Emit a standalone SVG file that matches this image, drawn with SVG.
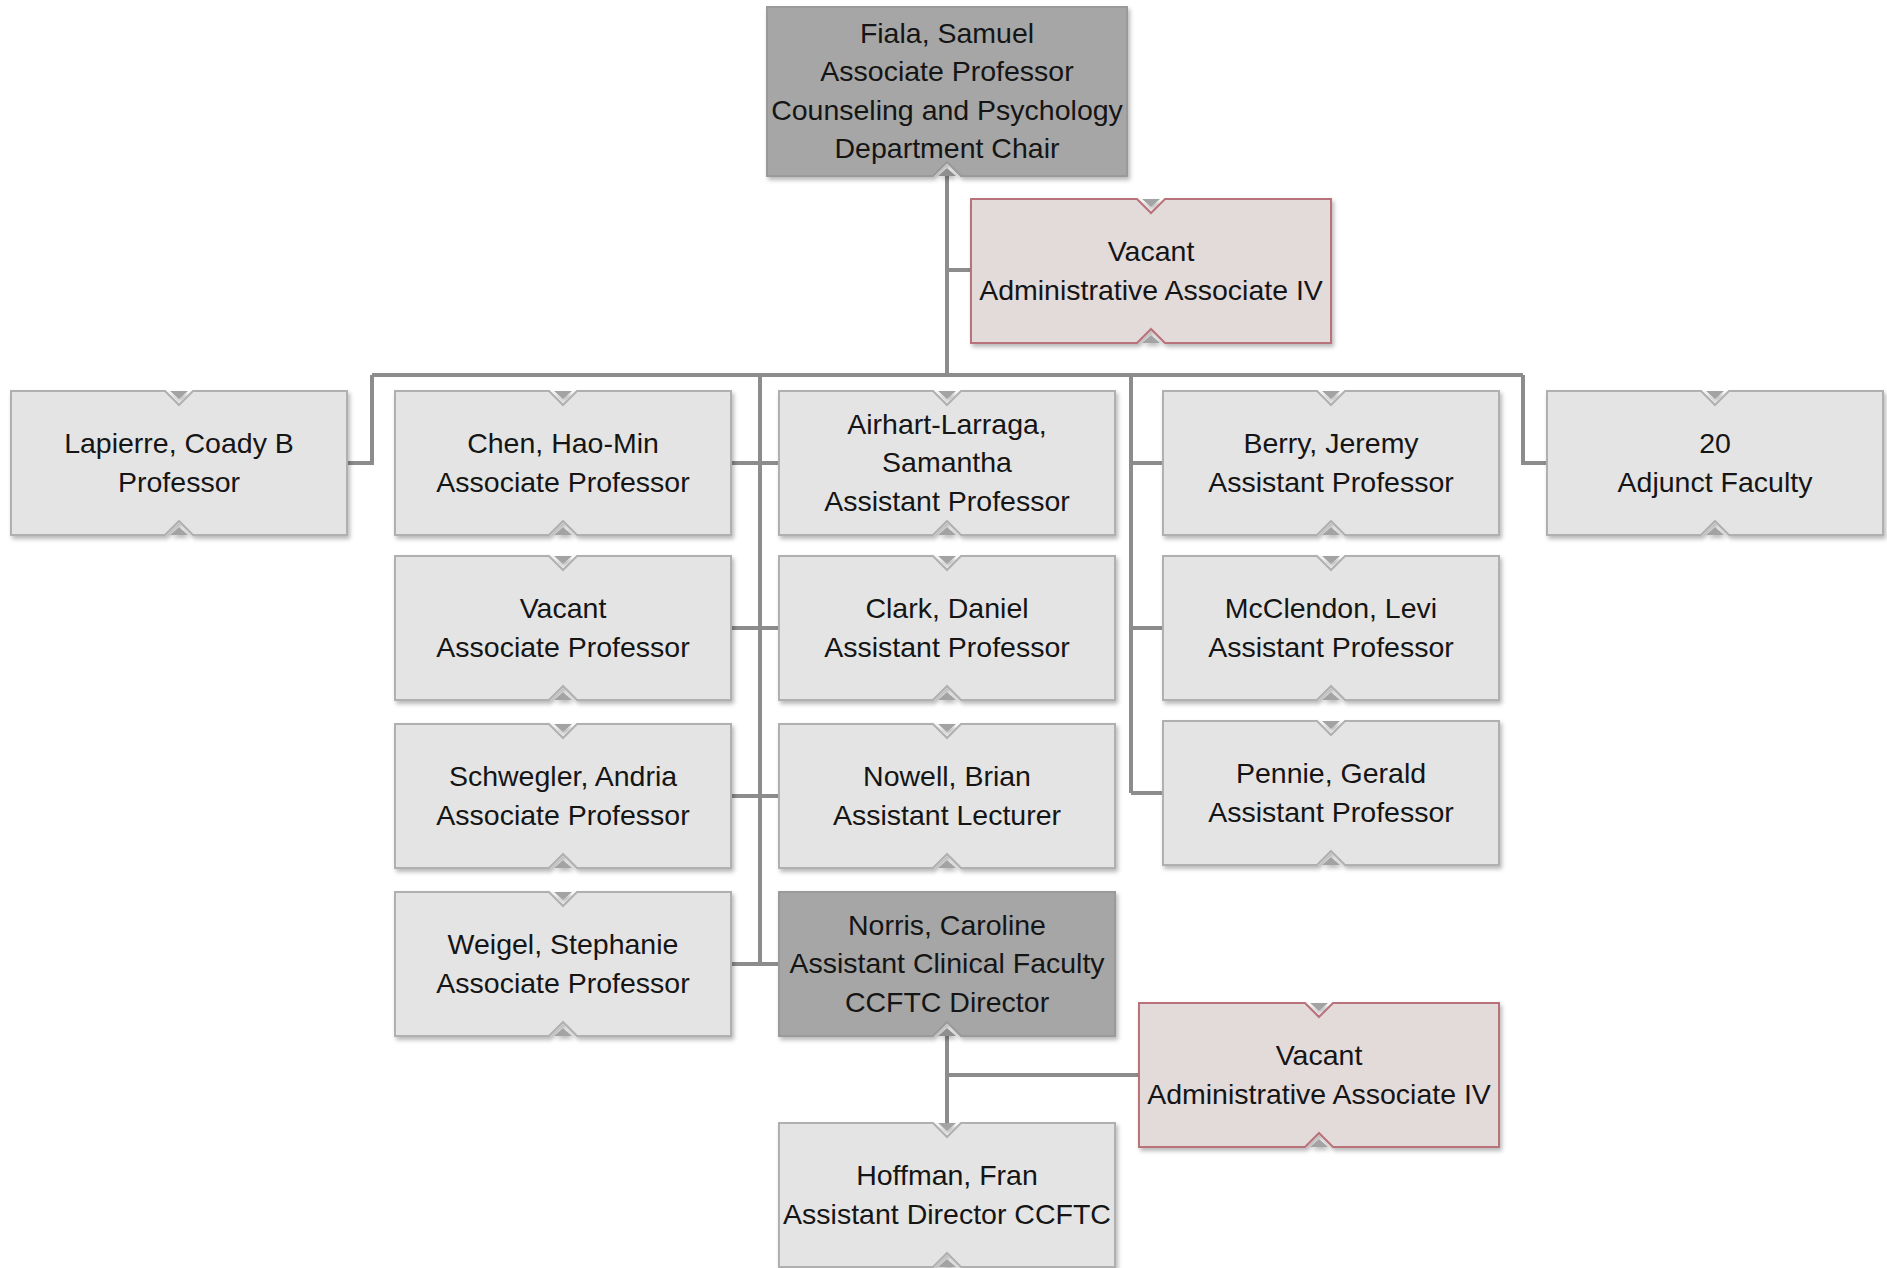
<svg xmlns="http://www.w3.org/2000/svg" xmlns:xlink="http://www.w3.org/1999/xlink" width="1887" height="1268" viewBox="0 0 1887 1268">
<style>
  .light { fill: #e4e4e4; stroke: #b0b0b0; stroke-width: 2; }
  .dark { fill: #a6a6a6; stroke: #9a9a9a; stroke-width: 2; }
  .pink { fill: #e3dada; stroke: #b9717a; stroke-width: 2; }
  .sh { filter: url(#shadow); }
  .t { font-family: "Liberation Sans", Arial, sans-serif; font-size: 28.5px; fill: #151515; text-anchor: middle; }
  .conn { fill: none; stroke: #8c8c8c; stroke-width: 4; stroke-linejoin: miter; }
</style>
<defs>
  <filter id="shadow" x="-5%" y="-10%" width="115%" height="130%">
    <feDropShadow dx="2" dy="3" stdDeviation="2" flood-color="#000" flood-opacity="0.28"/>
  </filter>
  <g id="s336">
    <polygon points="0,0 154,0 168,14 182,0 336,0 336,144 182,144 168,130 154,144 0,144"/>
    <path d="M159,0 H177 L168,8 Z M159,144 H177 L168,136 Z" fill="#a3a3a3" stroke="none"/>
  </g>
  <g id="s336b">
    <polygon points="0,0 336,0 336,144 182,144 168,130 154,144 0,144"/>
    <path d="M159,144 H177 L168,136 Z" fill="#8f8f8f" stroke="none"/>
  </g>
  <g id="s360">
    <polygon points="0,0 166,0 180,14 194,0 360,0 360,144 194,144 180,130 166,144 0,144"/>
    <path d="M171,0 H189 L180,8 Z M171,144 H189 L180,136 Z" fill="#a3a3a3" stroke="none"/>
  </g>
</defs>

<g id="connectors">
  <path class="conn" d="M947,176 V375"/>
  <path class="conn" d="M947,270 H971"/>
  <path class="conn" d="M372,375 H1523"/>
  <path class="conn" d="M347,463 H372 V375"/>
  <path class="conn" d="M1523,375 V463 H1547"/>
  <path class="conn" d="M760,375 V964"/>
  <path class="conn" d="M731,463 H779 M731,628 H779 M731,796 H779 M731,964 H779"/>
  <path class="conn" d="M1131,375 V793"/>
  <path class="conn" d="M1131,463 H1163 M1131,628 H1163 M1131,793 H1163"/>
  <path class="conn" d="M947,1036 V1123"/>
  <path class="conn" d="M947,1075 H1139"/>
</g>

<g id="fiala" transform="translate(767,7)">
  <g class="dark sh">
    <polygon points="0,0 360,0 360,169 194,169 180,155 166,169 0,169"/>
    <path d="M171,169 H189 L180,161 Z" fill="#8f8f8f" stroke="none"/>
  </g>
  <text class="t" x="180" y="35.8">Fiala, Samuel</text>
  <text class="t" x="180" y="74.3">Associate Professor</text>
  <text class="t" x="180" y="112.8">Counseling and Psychology</text>
  <text class="t" x="180" y="151.3">Department Chair</text>
</g>

<g id="vacant-admin-top" transform="translate(971,199)">
  <use href="#s360" class="pink sh"/>
  <text class="t" x="180" y="61.8">Vacant</text>
  <text class="t" x="180" y="101">Administrative Associate IV</text>
</g>

<g id="lapierre" transform="translate(11,391)">
  <use href="#s336" class="light sh"/>
  <text class="t" x="168" y="61.8">Lapierre, Coady B</text>
  <text class="t" x="168" y="101">Professor</text>
</g>

<g id="chen" transform="translate(395,391)">
  <use href="#s336" class="light sh"/>
  <text class="t" x="168" y="61.8">Chen, Hao-Min</text>
  <text class="t" x="168" y="101">Associate Professor</text>
</g>

<g id="airhart" transform="translate(779,391)">
  <use href="#s336" class="light sh"/>
  <text class="t" x="168" y="42.5">Airhart-Larraga,</text>
  <text class="t" x="168" y="81">Samantha</text>
  <text class="t" x="168" y="119.5">Assistant Professor</text>
</g>

<g id="berry" transform="translate(1163,391)">
  <use href="#s336" class="light sh"/>
  <text class="t" x="168" y="61.8">Berry, Jeremy</text>
  <text class="t" x="168" y="101">Assistant Professor</text>
</g>

<g id="adjunct" transform="translate(1547,391)">
  <use href="#s336" class="light sh"/>
  <text class="t" x="168" y="61.8">20</text>
  <text class="t" x="168" y="101">Adjunct Faculty</text>
</g>

<g id="vacant-assoc" transform="translate(395,556)">
  <use href="#s336" class="light sh"/>
  <text class="t" x="168" y="61.8">Vacant</text>
  <text class="t" x="168" y="101">Associate Professor</text>
</g>

<g id="clark" transform="translate(779,556)">
  <use href="#s336" class="light sh"/>
  <text class="t" x="168" y="61.8">Clark, Daniel</text>
  <text class="t" x="168" y="101">Assistant Professor</text>
</g>

<g id="mcclendon" transform="translate(1163,556)">
  <use href="#s336" class="light sh"/>
  <text class="t" x="168" y="61.8">McClendon, Levi</text>
  <text class="t" x="168" y="101">Assistant Professor</text>
</g>

<g id="schwegler" transform="translate(395,724)">
  <use href="#s336" class="light sh"/>
  <text class="t" x="168" y="61.8">Schwegler, Andria</text>
  <text class="t" x="168" y="101">Associate Professor</text>
</g>

<g id="nowell" transform="translate(779,724)">
  <use href="#s336" class="light sh"/>
  <text class="t" x="168" y="61.8">Nowell, Brian</text>
  <text class="t" x="168" y="101">Assistant Lecturer</text>
</g>

<g id="pennie" transform="translate(1163,721)">
  <use href="#s336" class="light sh"/>
  <text class="t" x="168" y="61.8">Pennie, Gerald</text>
  <text class="t" x="168" y="101">Assistant Professor</text>
</g>

<g id="weigel" transform="translate(395,892)">
  <use href="#s336" class="light sh"/>
  <text class="t" x="168" y="61.8">Weigel, Stephanie</text>
  <text class="t" x="168" y="101">Associate Professor</text>
</g>

<g id="norris" transform="translate(779,892)">
  <use href="#s336b" class="dark sh"/>
  <text class="t" x="168" y="42.5">Norris, Caroline</text>
  <text class="t" x="168" y="81">Assistant Clinical Faculty</text>
  <text class="t" x="168" y="119.5">CCFTC Director</text>
</g>

<g id="vacant-admin-bottom" transform="translate(1139,1003)">
  <use href="#s360" class="pink sh"/>
  <text class="t" x="180" y="61.8">Vacant</text>
  <text class="t" x="180" y="101">Administrative Associate IV</text>
</g>

<g id="hoffman" transform="translate(779,1123)">
  <use href="#s336" class="light sh"/>
  <text class="t" x="168" y="61.8">Hoffman, Fran</text>
  <text class="t" x="168" y="101">Assistant Director CCFTC</text>
</g>
</svg>
